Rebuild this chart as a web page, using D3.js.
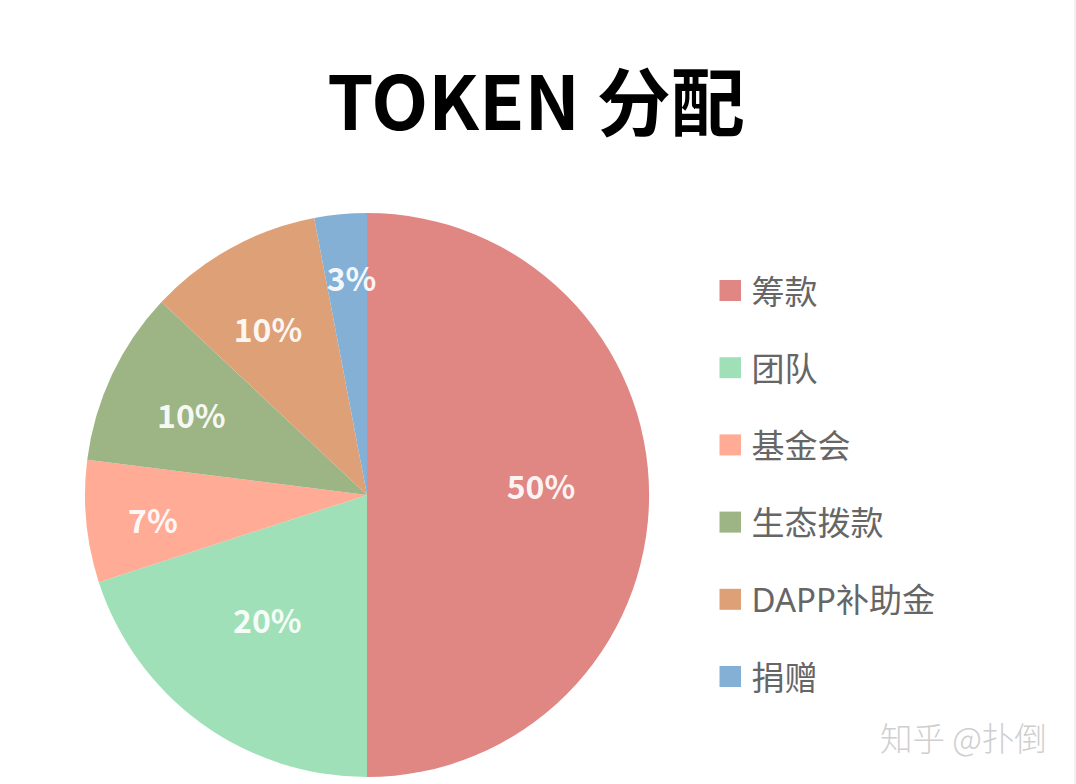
<!DOCTYPE html>
<html>
<head>
<meta charset="utf-8">
<script src="https://cdn.jsdelivr.net/npm/d3@7"></script>
<style>
  html, body { margin: 0; background: #fff; }
  text { font-family: "Noto Sans CJK SC", "Noto Sans", sans-serif; }
  .legend text { font-family: "Noto Sans", "Noto Sans CJK SC", sans-serif; }
</style>
</head>
<body>
<svg id="chart" width="1076" height="784"></svg>
<script>
var categories = ['筹款', '团队', '基金会', '生态拨款', 'DAPP补助金', '捐赠'];
var shares = [50, 20, 7, 10, 10, 3];
var labels = ['50%', '20%', '7%', '10%', '10%', '3%'];
var colors = ['#e08683', '#9fe0b8', '#ffab96', '#9db585', '#dea077', '#85b0d6'];

// the labels don't sit on one radius in the original
var labelRadius = [173, 161, 215, 193, 193, 217];
var labelNudge = [[1, -7], [-5, -3], [0, 7], [-1, 4], [-6, 5], [5, 1]];

var svg = d3.select('#chart');

svg.append('rect')
  .attr('x', 1074).attr('y', 0)
  .attr('width', 2).attr('height', 784)
  .attr('fill', '#f1f1f1');

svg.append('text')
  .attr('x', 536).attr('y', 130)
  .attr('text-anchor', 'middle')
  .attr('font-size', 74)
  .attr('font-weight', 700)
  .attr('fill', '#000')
  .text('TOKEN 分配');

var cx = 367, cy = 495, radius = 282;
var pie = d3.pie().sort(null)(shares);
var arc = d3.arc().innerRadius(0).outerRadius(radius);

var g = svg.append('g').attr('transform', 'translate(' + cx + ',' + cy + ')');

g.selectAll('path')
  .data(pie)
  .enter().append('path')
  .attr('d', arc)
  .attr('fill', function(d, i) { return colors[i]; });

g.selectAll('text')
  .data(pie)
  .enter().append('text')
  .attr('transform', function(d, i) {
    var p = d3.arc().innerRadius(labelRadius[i]).outerRadius(labelRadius[i]).centroid(d);
    return 'translate(' + (p[0] + labelNudge[i][0]) + ',' + (p[1] + labelNudge[i][1]) + ')';
  })
  .attr('text-anchor', 'middle')
  .attr('dy', '0.35em')
  .attr('font-size', 32)
  .attr('font-weight', 700)
  .attr('fill', '#fff')
  .attr('fill-opacity', 0.92)
  .text(function(d, i) { return labels[i]; });

var legendY = d3.scalePoint().domain(categories).range([290.5, 676.5]);

var legend = svg.selectAll('g.legend')
  .data(categories)
  .enter().append('g')
  .attr('class', 'legend')
  .attr('transform', function(d) { return 'translate(719.5,' + legendY(d) + ')'; });

legend.append('rect')
  .attr('x', 0).attr('y', -10.5)
  .attr('width', 21.5).attr('height', 21)
  .attr('fill', function(d, i) { return colors[i]; });

legend.append('text')
  .attr('x', 32)
  .attr('y', 1.5)
  .attr('dy', '0.35em')
  .attr('font-size', 33)
  .attr('fill', '#666')
  .text(function(d) { return d; });

svg.append('text')
  .attr('x', 963.5).attr('y', 751)
  .attr('text-anchor', 'middle')
  .attr('font-size', 32.5)
  .attr('font-weight', 300)
  .attr('fill', '#cfcfcf')
  .text('知乎 @扑倒');
</script>
</body>
</html>
